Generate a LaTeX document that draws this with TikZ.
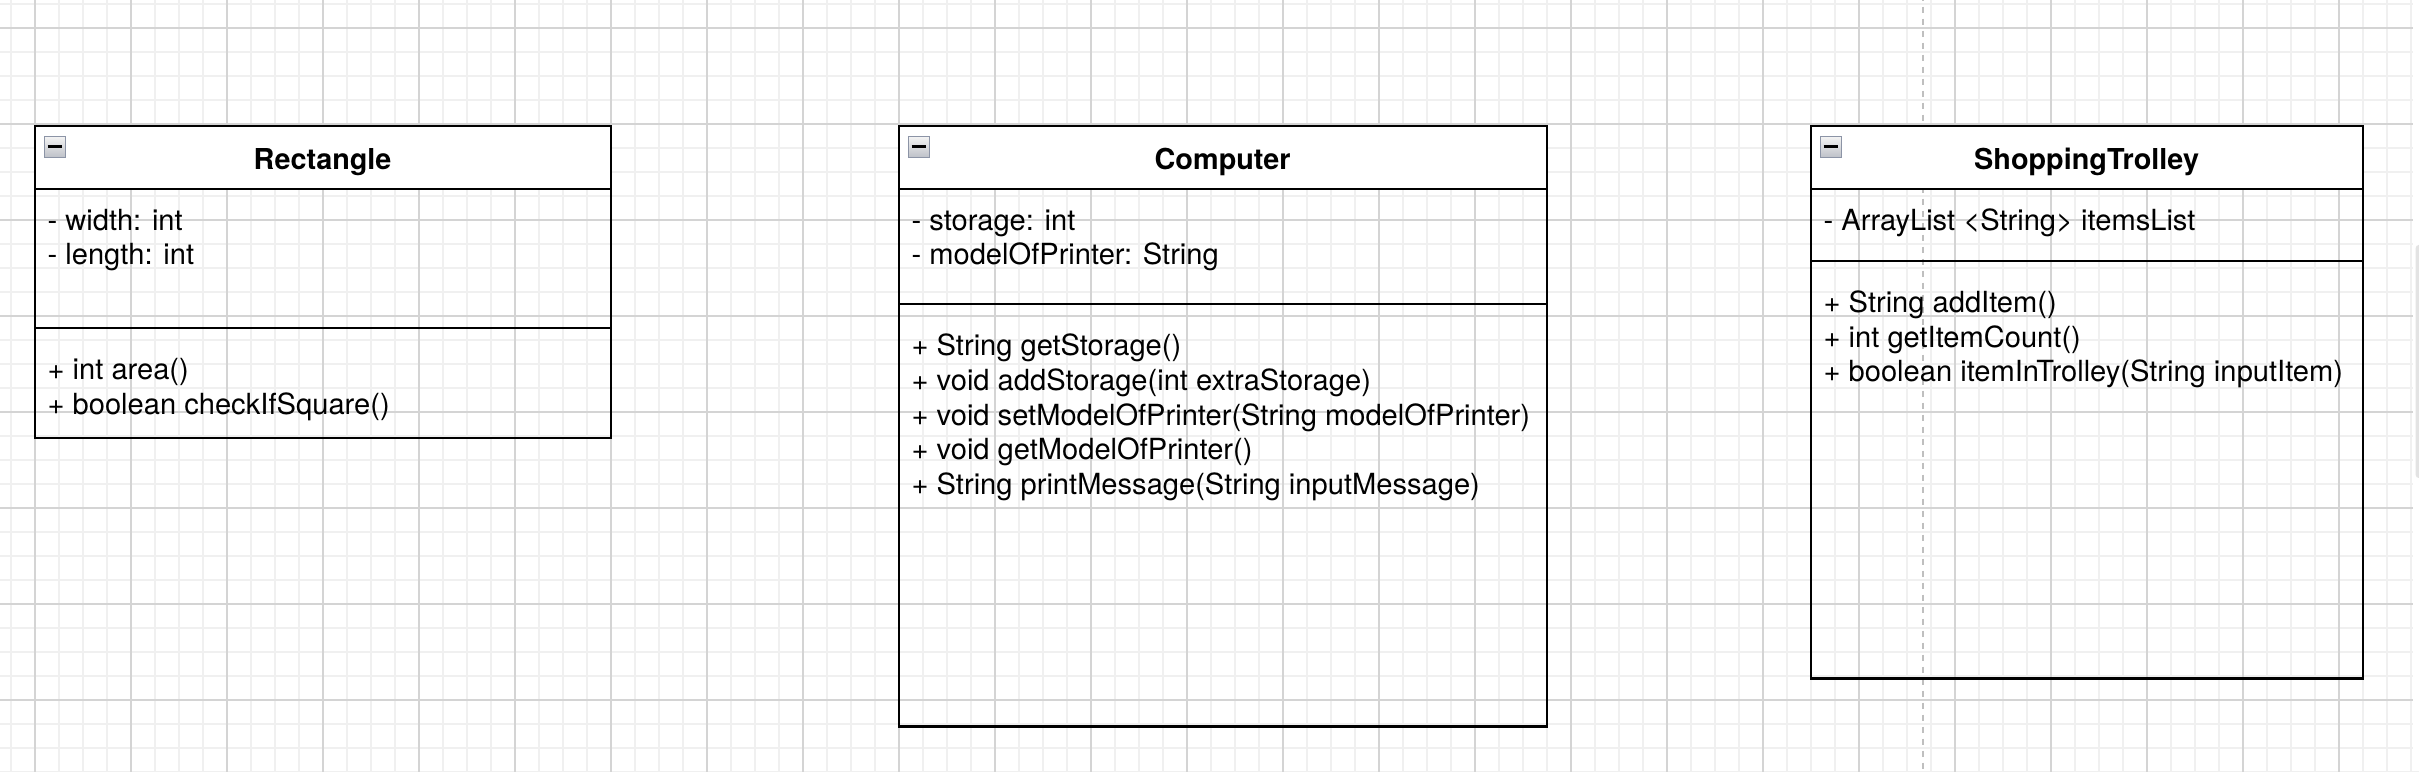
\documentclass[tikz,border=0pt]{standalone}
\usepackage{fontspec}
\setmainfont{TeX Gyre Heros}
\usetikzlibrary{positioning}

\definecolor{gridminor}{HTML}{F0F0F0}
\definecolor{gridmajor}{HTML}{D4D4D4}
\definecolor{pageline}{HTML}{BFBFBF}
\definecolor{panelgrey}{HTML}{E3E3E3}
\definecolor{iconline}{HTML}{8C94A6}
\definecolor{icontop}{HTML}{F4F4F4}
\definecolor{iconbottom}{HTML}{BEC1C8}

\begin{document}
\begin{tikzpicture}[
  x=1pt, y=1pt,
  head/.style={draw, fill=white, line width=2.2pt, minimum height=62.4pt,
    inner sep=0pt, outer sep=0pt, text height=23.4pt, text depth=0pt,
    font=\fontsize{28.8}{34.56}\selectfont\bfseries},
  part/.style={draw, line width=2.2pt, inner sep=0pt, outer sep=0pt},
  member/.style={inner sep=0pt, outer sep=0pt, text height=24.19pt,
    text depth=10.37pt, font=\fontsize{29.1}{34.56}\selectfont},
  icon/.style={draw=iconline, line width=1.4pt, top color=icontop,
    bottom color=iconbottom, minimum size=21pt, inner sep=0pt, outer sep=0pt}
]

% canvas
\path[use as bounding box, clip] (0,0) rectangle (2419,771);
\fill[white] (0,0) rectangle (2419,771);
\draw[gridminor, line width=1.8pt, shift={(10.7,22.7)}] (-24,-48) grid[step=24] (2424,792);
\draw[gridmajor, line width=2pt, shift={(34.7,70.7)}] (-96,-96) grid[step=96] (2424,792);
\fill[white] (2413,0) rectangle (2419,771);
\fill[panelgrey, rounded corners=3pt] (2415.7,293) rectangle (2424,526);
\draw[pageline, line width=2pt, dash pattern=on 6pt off 6pt, dash phase=5.3pt]
  (1922.7,771) -- (1922.7,0);

% Rectangle
\node[head, minimum width=576pt, anchor=north west] (rect) at (34.6,644.6) {Rectangle};
\node[part, minimum width=576pt, minimum height=139.2pt, below=0pt of rect] (rectattr) {};
\node[part, minimum width=576pt, minimum height=110.4pt, below=0pt of rectattr] (rectops) {};
\node[icon, below right=9.9pt and 9.7pt of rect.north west] (recticon) {};

\node[member, below right=17.3pt and 13pt of rectattr.north west] (ra1) {- width: int};
\node[member, below right=0pt and 0pt of ra1.south west] (ra2) {- length: int};
\node[member, below right=27.8pt and 13pt of rectops.north west] (ro1) {+ int area()};
\node[member, below right=0pt and 0pt of ro1.south west] (ro2) {+ boolean checkIfSquare()};

% Computer
\node[head, minimum width=648pt, anchor=north west] (comp) at (898.6,644.6) {Computer};
\node[part, minimum width=648pt, minimum height=115.2pt, below=0pt of comp] (compattr) {};
\node[part, minimum width=648pt, minimum height=422.4pt, below=0pt of compattr] (compops) {};
\node[icon, below right=9.9pt and 9.7pt of comp.north west] (compicon) {};

\node[member, below right=17.3pt and 13pt of compattr.north west] (ca1) {- storage: int};
\node[member, below right=0pt and 0pt of ca1.south west] (ca2) {- modelOfPrinter: String};
\node[member, below right=27.8pt and 13pt of compops.north west] (co1) {+ String getStorage()};
\node[member, below right=0pt and 0pt of co1.south west] (co2) {+ void addStorage(int extraStorage)};
\node[member, below right=0pt and 0pt of co2.south west] (co3) {+ void setModelOfPrinter(String modelOfPrinter)};
\node[member, below right=0pt and 0pt of co3.south west] (co4) {+ void getModelOfPrinter()};
\node[member, below right=0pt and 0pt of co4.south west] (co5) {+ String printMessage(String inputMessage)};

% ShoppingTrolley
\node[head, minimum width=552pt, anchor=north west] (trol) at (1810.6,644.6) {ShoppingTrolley};
\node[part, minimum width=552pt, minimum height=72pt, below=0pt of trol] (trolattr) {};
\node[part, minimum width=552pt, minimum height=417.6pt, below=0pt of trolattr] (trolops) {};
\node[icon, below right=9.9pt and 9.7pt of trol.north west] (trolicon) {};

\node[member, below right=17.3pt and 13pt of trolattr.north west] (ta1) {- ArrayList <String> itemsList};
\node[member, below right=27.8pt and 13pt of trolops.north west] (to1) {+ String addItem()};
\node[member, below right=0pt and 0pt of to1.south west] (to2) {+ int getItemCount()};
\node[member, below right=0pt and 0pt of to2.south west] (to3) {+ boolean itemInTrolley(String inputItem)};

% collapse marks
\draw[line width=2.6pt] ([xshift=3.4pt]recticon.west) -- ([xshift=-3.4pt]recticon.east);
\draw[line width=2.6pt] ([xshift=3.4pt]compicon.west) -- ([xshift=-3.4pt]compicon.east);
\draw[line width=2.6pt] ([xshift=3.4pt]trolicon.west) -- ([xshift=-3.4pt]trolicon.east);

\end{tikzpicture}
\end{document}
